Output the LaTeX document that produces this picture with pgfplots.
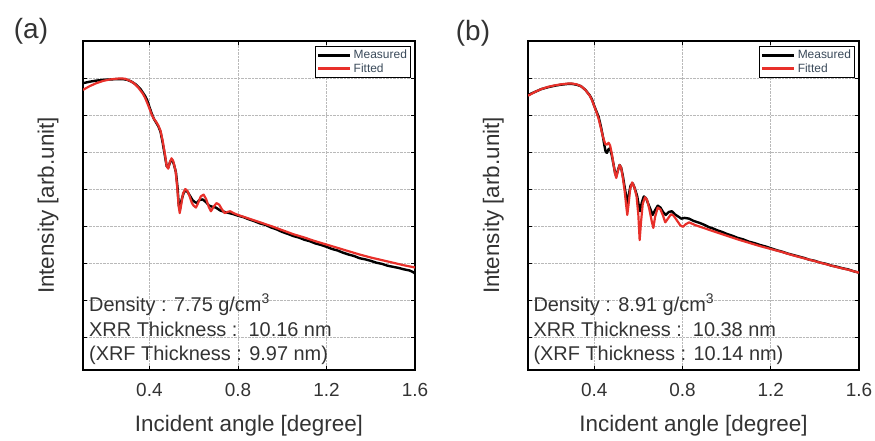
\documentclass[border=0pt]{standalone}
\usepackage{pgfplots}
\pgfplotsset{compat=1.18}
\usepackage{fontspec}
\setmainfont{Liberation Sans}
\definecolor{fitred}{HTML}{E8302A}
\definecolor{txtgray}{HTML}{333333}
\definecolor{leggray}{HTML}{3A4A5A}

\pgfplotstableread{
x y
0.100 7.86
0.130 7.90
0.160 7.93
0.190 7.95
0.220 7.96
0.250 7.97
0.280 7.97
0.300 7.95
0.320 7.90
0.340 7.82
0.360 7.70
0.380 7.52
0.390 7.40
0.400 7.22
0.410 7.05
0.420 6.90
0.430 6.80
0.440 6.70
0.450 6.55
0.460 6.25
0.470 5.90
0.478 5.62
0.485 5.58
0.495 5.75
0.502 5.80
0.510 5.68
0.520 5.45
0.527 5.05
0.533 4.55
0.538 4.45
0.545 4.70
0.555 4.90
0.565 4.97
0.575 4.90
0.585 4.80
0.595 4.70
0.605 4.65
0.615 4.62
0.625 4.70
0.640 4.72
0.655 4.65
0.670 4.55
0.685 4.52
0.700 4.50
0.720 4.42
0.740 4.38
0.760 4.35
0.780 4.32
0.800 4.28
0.825 4.24
0.850 4.18
0.875 4.13
0.900 4.07
0.925 4.03
0.950 3.96
0.975 3.91
1.000 3.84
1.025 3.79
1.050 3.73
1.075 3.69
1.100 3.63
1.125 3.59
1.150 3.53
1.175 3.49
1.200 3.44
1.225 3.38
1.250 3.34
1.275 3.28
1.300 3.23
1.325 3.19
1.350 3.13
1.375 3.10
1.400 3.06
1.425 3.01
1.450 2.98
1.475 2.93
1.500 2.90
1.525 2.87
1.550 2.83
1.575 2.80
1.590 2.76
1.600 2.72
}\measA

\pgfplotstableread{
x y
0.100 7.68
0.130 7.78
0.160 7.86
0.190 7.92
0.220 7.96
0.250 7.98
0.270 7.99
0.290 7.98
0.310 7.93
0.330 7.86
0.350 7.74
0.370 7.58
0.380 7.47
0.390 7.33
0.400 7.18
0.410 7.02
0.420 6.90
0.430 6.82
0.440 6.72
0.450 6.58
0.460 6.30
0.470 5.95
0.478 5.62
0.485 5.55
0.492 5.72
0.500 5.83
0.508 5.75
0.518 5.50
0.525 5.10
0.532 4.55
0.537 4.35
0.543 4.55
0.552 4.88
0.562 5.00
0.572 4.95
0.582 4.80
0.592 4.62
0.600 4.55
0.610 4.50
0.620 4.62
0.632 4.80
0.645 4.85
0.657 4.72
0.668 4.52
0.678 4.40
0.690 4.52
0.703 4.62
0.715 4.58
0.728 4.45
0.740 4.35
0.752 4.38
0.765 4.40
0.780 4.35
0.800 4.30
0.850 4.20
0.900 4.10
0.950 4.00
1.000 3.89
1.050 3.78
1.100 3.69
1.150 3.59
1.200 3.50
1.250 3.41
1.300 3.32
1.350 3.23
1.400 3.15
1.450 3.08
1.500 3.01
1.550 2.94
1.600 2.88
}\fitA

\pgfplotstableread{
x y
0.100 7.54
0.130 7.62
0.160 7.70
0.190 7.75
0.220 7.79
0.250 7.82
0.280 7.84
0.300 7.84
0.320 7.82
0.340 7.78
0.360 7.68
0.380 7.53
0.390 7.42
0.400 7.25
0.410 7.10
0.420 6.95
0.430 6.70
0.440 6.40
0.447 6.15
0.452 6.00
0.458 5.98
0.465 6.08
0.472 6.10
0.480 5.90
0.488 5.65
0.495 5.42
0.500 5.35
0.507 5.50
0.515 5.65
0.522 5.58
0.530 5.35
0.538 5.05
0.545 4.80
0.551 4.62
0.557 4.85
0.565 5.10
0.575 5.15
0.585 5.00
0.595 4.80
0.602 4.55
0.608 4.40
0.615 4.62
0.625 4.80
0.635 4.75
0.645 4.60
0.655 4.45
0.665 4.30
0.675 4.42
0.688 4.55
0.700 4.50
0.712 4.38
0.724 4.30
0.738 4.38
0.752 4.40
0.765 4.32
0.780 4.26
0.795 4.20
0.810 4.22
0.830 4.20
0.850 4.14
0.880 4.08
0.900 4.03
0.920 3.97
0.940 3.93
0.960 3.88
0.980 3.84
1.000 3.79
1.025 3.74
1.050 3.68
1.075 3.64
1.100 3.58
1.125 3.54
1.150 3.49
1.175 3.45
1.200 3.40
1.225 3.35
1.250 3.31
1.275 3.26
1.300 3.22
1.325 3.18
1.350 3.14
1.375 3.09
1.400 3.06
1.425 3.01
1.450 2.98
1.475 2.93
1.500 2.90
1.525 2.86
1.550 2.83
1.575 2.78
1.600 2.74
}\measB

\pgfplotstableread{
x y
0.100 7.52
0.130 7.62
0.160 7.70
0.190 7.76
0.220 7.80
0.250 7.83
0.280 7.85
0.300 7.85
0.320 7.83
0.340 7.78
0.360 7.68
0.380 7.52
0.390 7.40
0.400 7.24
0.410 7.08
0.420 6.90
0.430 6.65
0.440 6.40
0.450 6.22
0.458 6.20
0.465 6.25
0.472 6.18
0.480 5.95
0.488 5.65
0.495 5.40
0.500 5.30
0.507 5.48
0.515 5.65
0.522 5.58
0.530 5.30
0.538 4.95
0.545 4.55
0.550 4.30
0.556 4.60
0.563 5.00
0.572 5.18
0.582 5.05
0.592 4.80
0.600 4.30
0.606 3.62
0.612 4.10
0.620 4.60
0.630 4.78
0.640 4.70
0.650 4.45
0.660 4.15
0.668 3.95
0.676 4.25
0.688 4.50
0.700 4.45
0.712 4.28
0.722 4.10
0.734 4.20
0.748 4.32
0.760 4.28
0.775 4.15
0.790 4.02
0.802 3.98
0.815 4.05
0.830 4.10
0.845 4.06
0.860 4.02
0.890 3.96
0.920 3.90
0.960 3.82
1.000 3.74
1.050 3.64
1.100 3.55
1.150 3.46
1.200 3.38
1.250 3.30
1.300 3.21
1.350 3.13
1.400 3.05
1.450 2.97
1.500 2.89
1.550 2.82
1.600 2.74
}\fitB

\tikzset{
  annot/.style={anchor=base west, inner sep=0pt, text=txtgray, font=\fontsize{20}{24}\selectfont},
}

\pgfplotsset{
  xrrstyle/.style={
    scale only axis,
    width=332bp, height=329bp,
    xmin=0.1, xmax=1.6, ymin=0.11, ymax=9,
    xtick={0.4,0.8,1.2,1.6},
    xticklabels={0.4,0.8,1.2,1.6},
    ytick={1,2,3,4,5,6,7,8},
    yticklabels={},
    tick align=inside,
    major tick length=4bp,
    tick style={black, line width=0.8bp},
    xmajorgrids, ymajorgrids,
    major grid style={densely dotted, gray!55, line width=0.8bp},
    axis line style={black, line width=1.3bp},
    xticklabel style={font=\fontsize{19}{22}\selectfont, text=txtgray, anchor=center, yshift=-20bp},
    xlabel={Incident angle [degree]},
    ylabel={Intensity [arb.unit]},
    xlabel style={at={(axis description cs:0.5,-0.168)}, anchor=center, font=\fontsize{22.5}{26}\selectfont, text=txtgray},
    ylabel style={at={(axis description cs:-0.105,0.5)}, anchor=center, font=\fontsize{22.5}{26}\selectfont, text=txtgray},
    legend style={at={(axis description cs:1,1)}, anchor=north east, xshift=-4bp, yshift=-5bp,
      draw=black, line width=1.2bp, font=\fontsize{12}{14}\selectfont, text=leggray,
      inner xsep=1.5bp, inner ysep=1.5bp, row sep=-0.5bp},
    legend cell align=left,
    legend image code/.code={\draw[#1, line width=3bp] (0bp,0bp) -- (32bp,0bp);},
  },
  measstyle/.style={black, line width=2.4bp, line join=round},
  fitstyle/.style={fitred, line width=2.2bp, line join=round},
}

\begin{document}
\begin{tikzpicture}
\useasboundingbox (0,0) rectangle (875bp,-441bp);

\begin{axis}[xrrstyle, at={(83bp,-370bp)}, anchor=south west]
\addplot[measstyle] table[x=x,y=y] {\measA};
\addlegendentry{Measured}
\addplot[fitstyle] table[x=x,y=y] {\fitA};
\addlegendentry{Fitted}
\node[annot] at (axis description cs:0.018,0.179) {Density : 7.75 g/cm\textsuperscript{3}};
\node[annot] at (axis description cs:0.018,0.103) {XRR Thickness :\ \ 10.16 nm};
\node[annot] at (axis description cs:0.018,0.030) {(XRF Thickness : 9.97 nm)};
\end{axis}

\begin{axis}[xrrstyle, at={(528bp,-370bp)}, anchor=south west, width=331bp]
\addplot[measstyle] table[x=x,y=y] {\measB};
\addlegendentry{Measured}
\addplot[fitstyle] table[x=x,y=y] {\fitB};
\addlegendentry{Fitted}
\node[annot] at (axis description cs:0.016,0.179) {Density : 8.91 g/cm\textsuperscript{3}};
\node[annot] at (axis description cs:0.016,0.103) {XRR Thickness :\ \ 10.38 nm};
\node[annot] at (axis description cs:0.016,0.030) {(XRF Thickness : 10.14 nm)};
\end{axis}

\node[font=\fontsize{28}{32}\selectfont, text=txtgray] at (31bp,-31bp) {(a)};
\node[font=\fontsize{28}{32}\selectfont, text=txtgray] at (473bp,-33bp) {(b)};
\end{tikzpicture}
\end{document}
